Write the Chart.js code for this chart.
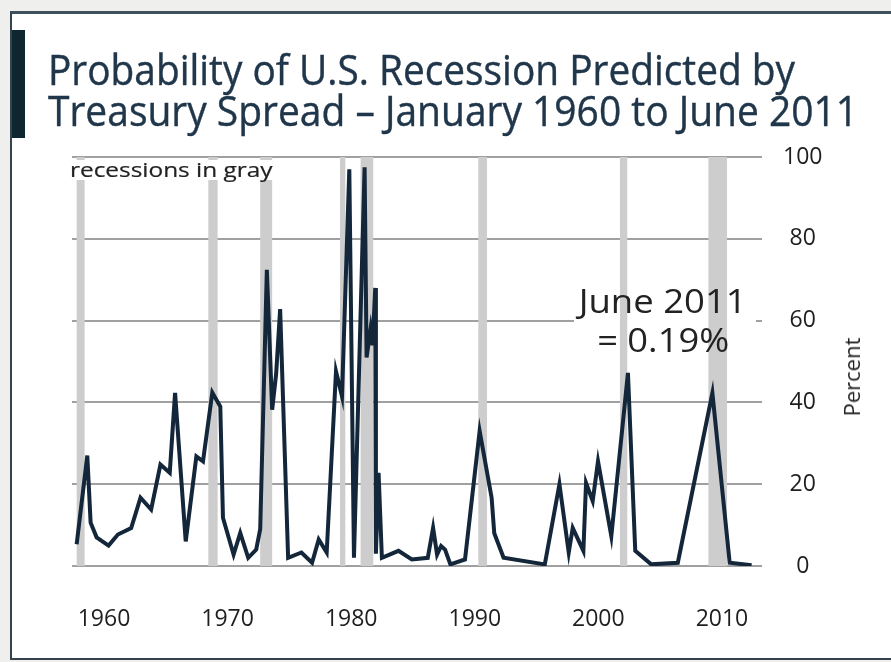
<!DOCTYPE html>
<html>
<head>
<meta charset="utf-8">
<script src="https://cdn.jsdelivr.net/npm/chart.js@4.4.1/dist/chart.umd.min.js"></script>
<style>
  html, body { margin: 0; padding: 0; }
  body { width: 891px; height: 662px; background: #efefed; position: relative; overflow: hidden; font-family: 'Open Sans', sans-serif; }
  #frame { position: absolute; left: 10px; top: 11px; width: 900px; height: 644px; background: #fff; border-left: 2px solid #34434e; border-top: 3px solid #3f505c; border-bottom: 2px solid #34434e; }
  #accent { position: absolute; left: 12px; top: 30px; width: 13px; height: 108px; background: #0e2630; }
  #chartBox { position: absolute; left: 0; top: 0; width: 891px; height: 662px; }
  .txt { position: absolute; white-space: nowrap; line-height: 1; }
  .title { left: 48px; font-size: 42px; color: #20364a; transform-origin: left center; -webkit-text-stroke: 0.4px #20364a; }
  #note { left: 70px; top: 160px; font-size: 20px; color: #222; background: #fff; padding-right: 2px; transform-origin: left center; -webkit-text-stroke: 0.2px #222; }
  .ann { font-size: 32px; color: #222; transform-origin: center center; }
  #percent { left: 851px; top: 377px; font-size: 22px; color: #1e1e1e; transform: translate(-50%, -50%) rotate(-90deg); }
</style>
</head>
<body>
<div id="frame"></div>
<div id="accent"></div>
<div id="chartBox"><canvas id="recessionChart" width="891" height="662"></canvas></div>
<span class="txt title" id="t1" style="top:48px">Probability of U.S. Recession Predicted by</span>
<span class="txt title" id="t2" style="top:89px">Treasury Spread – January 1960 to June 2011</span>
<span class="txt" id="note">recessions in gray</span>
<span class="txt ann" id="ann1" style="top:285px">June 2011</span>
<span class="txt ann" id="ann2" style="top:324px">= 0.19%</span>
<span class="txt" id="percent">Percent</span>
<script>
// probability of recession (percent)
const years = [
  1960.2, 1961.0, 1961.25, 1961.7, 1962.6, 1963.3, 1964.3, 1965.0, 1965.8, 1966.5,
  1967.2, 1967.6, 1968.4, 1969.2, 1969.7, 1970.4, 1971.0, 1971.2, 1972.0, 1972.5,
  1973.1, 1973.7, 1974.0, 1974.5, 1974.9, 1975.2, 1975.5, 1976.1, 1977.1, 1977.9,
  1978.4, 1979.0, 1979.7, 1980.15, 1980.7, 1981.05, 1981.85, 1982.0, 1982.3, 1982.45,
  1982.65, 1982.7, 1982.9, 1983.15, 1984.4, 1985.4, 1986.6, 1987.0, 1987.3, 1987.6,
  1987.9, 1988.3, 1989.4, 1990.5, 1991.4, 1991.6, 1992.3, 1995.4, 1996.5, 1997.2,
  1997.5, 1998.3, 1998.5, 1999.0, 1999.4, 2000.4, 2001.65, 2002.2, 2003.4, 2005.4,
  2008.0, 2009.3, 2010.95
];
const probability = [
  5.3, 27, 10.6, 7, 5, 7.7, 9.3, 16.7, 13.8, 24.8,
  22.8, 42.3, 6, 26.8, 25.6, 42.4, 39, 11.8, 2.8, 8.1,
  2, 4, 9, 72.4, 38.2, 47, 62.8, 2, 3.3, 0.8,
  6.5, 3.3, 47.6, 41.5, 97, 2, 97.5, 51, 58, 54,
  68, 3, 22.8, 2, 3.7, 1.6, 2, 9.3, 2.8, 4.9,
  4, 0.4, 1.6, 33, 16.7, 8, 2, 0.4, 20, 3.3,
  9.3, 3.7, 20.3, 15.9, 25.6, 7.3, 47.2, 3.7, 0.4, 0.8,
  42.3, 0.8, 0.2
];
// recession shading (gray bands)
const recessionStart = [1960.2, 1970.1, 1974.0, 1980.0, 1981.55, 1990.4, 2001.05, 2007.7];
const recessionEnd   = [1960.8, 1970.8, 1974.9, 1980.4, 1982.5, 1991.05, 2001.6, 2009.1];
const yearTicks = [1960, 1970, 1980, 1990, 2000, 2010];
const percentTicks = [0, 20, 40, 60, 80, 100];

// squeeze the text to the widths used in the original artwork
function fitWidth(id, target) {
  const el = document.getElementById(id);
  const w = el.getBoundingClientRect().width;
  el.style.transform = 'scaleX(' + (target / w) + ')';
}
function centerAt(id, cx, target) {
  const el = document.getElementById(id);
  const w = el.getBoundingClientRect().width;
  el.style.left = (cx - w / 2) + 'px';
  el.style.transform = 'scaleX(' + (target / w) + ')';
}
fitWidth('t1', 747);
fitWidth('t2', 810);
fitWidth('note', 205);
centerAt('ann1', 663, 168);
centerAt('ann2', 663, 132);

const recessionBands = {
  id: 'recessionBands',
  beforeDatasetsDraw(chart) {
    const { ctx, chartArea, scales } = chart;
    ctx.save();
    // gridline is broken behind the June 2011 note
    ctx.fillStyle = '#fff';
    ctx.fillRect(574, 316, 182, 12);
    ctx.fillStyle = '#cdcdcd';
    recessionStart.forEach((s, i) => {
      const x1 = scales.x.getPixelForValue(s);
      const x2 = scales.x.getPixelForValue(recessionEnd[i]);
      ctx.fillRect(x1, chartArea.top, Math.max(x2 - x1, 4), chartArea.bottom - chartArea.top);
    });
    ctx.restore();
  }
};

const ctx = document.getElementById('recessionChart').getContext('2d');
new Chart(ctx, {
  type: 'line',
  data: {
    datasets: [{
      data: years.map((y, i) => ({ x: y, y: probability[i] })),
      borderColor: '#13263a',
      borderWidth: 4,
      pointRadius: 0,
      tension: 0,
      fill: false,
      xAxisID: 'x',
      yAxisID: 'y'
    }]
  },
  options: {
    responsive: false,
    animation: false,
    layout: { padding: { left: 72, top: 157, right: 0, bottom: 0 } },
    plugins: { legend: { display: false }, tooltip: { enabled: false } },
    scales: {
      x: { type: 'linear', min: 1959.85, max: 2011.73, display: false },
      // year labels in the original are spaced a little tighter than the data
      years: {
        type: 'linear',
        position: 'bottom',
        min: 1957.41,
        max: 2013.24,
        grid: { display: false, drawTicks: false },
        border: { display: false },
        afterBuildTicks: s => { s.ticks = yearTicks.map(v => ({ value: v })); },
        afterFit: s => { s.height = 96; },
        ticks: {
          autoSkip: false,
          maxRotation: 0,
          padding: 40,
          color: '#1e1e1e',
          font: { family: 'Open Sans', size: 23 },
          callback: v => String(v)
        }
      },
      y: {
        position: 'right',
        min: 0,
        max: 100,
        afterBuildTicks: s => { s.ticks = percentTicks.map(v => ({ value: v })); },
        afterFit: s => { s.width = 129; },
        grid: { color: '#a0a0a0', lineWidth: 2, drawTicks: false },
        border: { display: false },
        ticks: {
          padding: 21,
          crossAlign: 'center',
          color: '#1e1e1e',
          font: { family: 'Open Sans', size: 23 }
        }
      }
    }
  },
  plugins: [recessionBands]
});
</script>
</body>
</html>
